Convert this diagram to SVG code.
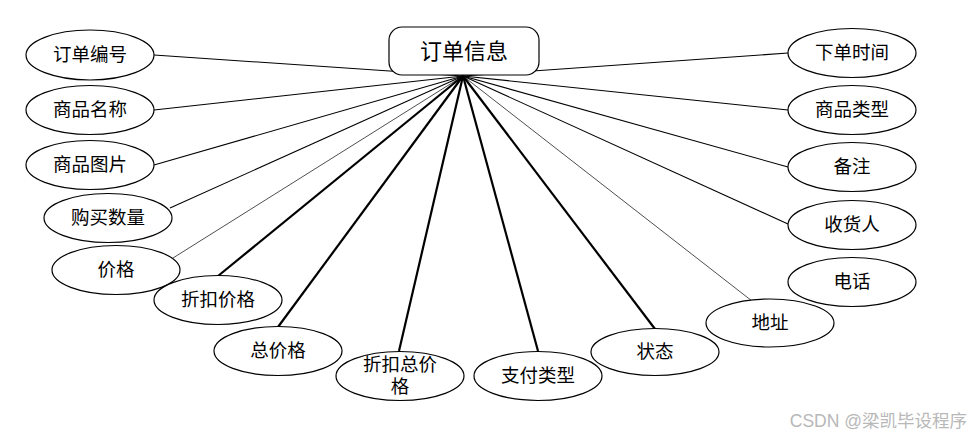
<svg xmlns="http://www.w3.org/2000/svg" width="971" height="439" viewBox="0 0 971 439">
<style>
.e{fill:#fff;stroke:#000;stroke-width:1.2}
.t{font-family:"Liberation Serif","Noto Sans CJK SC",serif;font-size:18.5px;fill:#000;text-anchor:middle;dominant-baseline:central}
.c{stroke:#000;stroke-width:1.1;fill:none}
.k{stroke:#000;stroke-width:2.2;fill:none}
.l{stroke:#222;stroke-width:0.8;fill:none}
</style>
<rect width="971" height="439" fill="#fff"/>
<g id="connectors">
<line class="c" x1="463" y1="76" x2="154" y2="55"/>
<line class="c" x1="463" y1="76" x2="154" y2="110"/>
<line class="c" x1="463" y1="76" x2="154" y2="165"/>
<line class="c" x1="463" y1="76" x2="170" y2="208"/>
<line class="l" x1="463" y1="76" x2="173" y2="258"/>
<line class="k" x1="463" y1="76" x2="218" y2="276"/>
<line class="k" x1="463" y1="76" x2="278" y2="327"/>
<line class="k" x1="463" y1="76" x2="399" y2="351"/>
<line class="k" x1="463" y1="76" x2="538" y2="351"/>
<line class="k" x1="463" y1="76" x2="655" y2="329"/>
<line class="l" x1="463" y1="76" x2="752" y2="301"/>
<line class="c" x1="463" y1="76" x2="788" y2="224"/>
<line class="c" x1="463" y1="76" x2="788" y2="167"/>
<line class="c" x1="463" y1="76" x2="788" y2="110"/>
<line class="c" x1="463" y1="76" x2="788" y2="53"/>
</g>
<g id="order">
<rect x="389" y="27" width="150" height="48" rx="13" ry="13" fill="#fff" stroke="#000" stroke-width="1.2"/>
<text class="t" x="464" y="51" style="font-size:22px">订单信息</text>
</g>
<g id="n1"><ellipse class="e" cx="90" cy="55" rx="64" ry="25"/><text class="t" x="90" y="55">订单编号</text></g>
<g id="n2"><ellipse class="e" cx="90" cy="110" rx="64" ry="24.5"/><text class="t" x="90" y="110">商品名称</text></g>
<g id="n3"><ellipse class="e" cx="90" cy="165" rx="64" ry="24.5"/><text class="t" x="90" y="165">商品图片</text></g>
<g id="n4"><ellipse class="e" cx="108" cy="218" rx="64" ry="24.5"/><text class="t" x="108" y="218">购买数量</text></g>
<g id="n5"><ellipse class="e" cx="116" cy="270" rx="64" ry="24.5"/><text class="t" x="116" y="270">价格</text></g>
<g id="n6"><ellipse class="e" cx="218" cy="300" rx="64" ry="24.5"/><text class="t" x="218" y="300">折扣价格</text></g>
<g id="n7"><ellipse class="e" cx="278" cy="351" rx="64" ry="24.5"/><text class="t" x="278" y="351">总价格</text></g>
<g id="n8"><ellipse class="e" cx="400" cy="376" rx="64" ry="24.5"/><text class="t" x="400" y="365">折扣总价</text><text class="t" x="400" y="387">格</text></g>
<g id="n9"><ellipse class="e" cx="538" cy="376" rx="64" ry="24.5"/><text class="t" x="538" y="376">支付类型</text></g>
<g id="n10"><ellipse class="e" cx="655" cy="352" rx="64" ry="23.5"/><text class="t" x="655" y="352">状态</text></g>
<g id="n11"><ellipse class="e" cx="770" cy="323" rx="64" ry="24"/><text class="t" x="770" y="323">地址</text></g>
<g id="n12"><ellipse class="e" cx="852" cy="53" rx="64" ry="24.5"/><text class="t" x="852" y="53">下单时间</text></g>
<g id="n13"><ellipse class="e" cx="852" cy="110" rx="64" ry="24.5"/><text class="t" x="852" y="110">商品类型</text></g>
<g id="n14"><ellipse class="e" cx="852" cy="167" rx="64" ry="24.5"/><text class="t" x="852" y="167">备注</text></g>
<g id="n15"><ellipse class="e" cx="852" cy="225" rx="64" ry="24.5"/><text class="t" x="852" y="225">收货人</text></g>
<g id="n16"><ellipse class="e" cx="852" cy="282" rx="64" ry="24.5"/><text class="t" x="852" y="282">电话</text></g>
<text x="967" y="421" font-family="'Liberation Sans','Noto Sans CJK SC',sans-serif" font-size="17.5" fill="#b8b8b8" text-anchor="end" dominant-baseline="central">CSDN @梁凯毕设程序</text>
</svg>
